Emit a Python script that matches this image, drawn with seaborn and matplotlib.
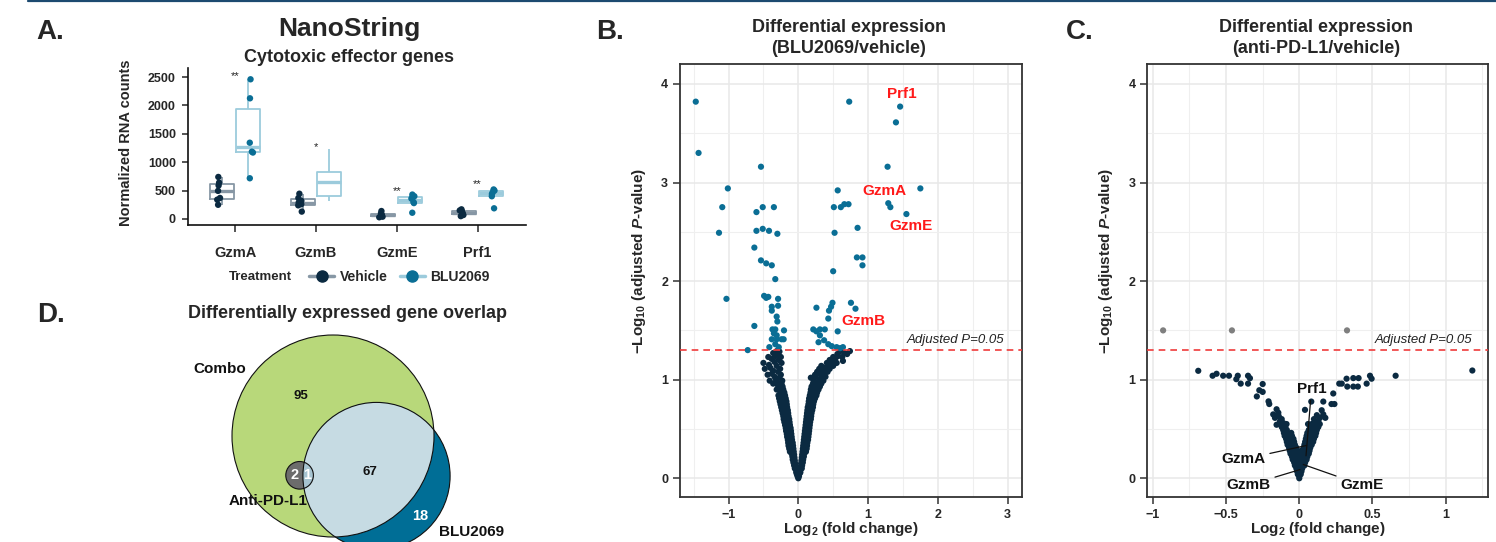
import matplotlib
matplotlib.use('Agg')
import matplotlib.pyplot as plt
import matplotlib.ticker as mticker
from matplotlib.lines import Line2D
from matplotlib.patches import Circle
import numpy as np
import pandas as pd
import seaborn as sns

# ---------------- panel A: NanoString counts ----------------
genes = ['GzmA', 'GzmB', 'GzmE', 'Prf1']
treatments = ['Vehicle', 'BLU2069']

gzma_vehicle = [250, 340, 370, 495, 590, 640, 740]
gzmb_vehicle = [130, 240, 260, 290, 320, 370, 445]
gzme_vehicle = [30, 40, 55, 65, 85, 100, 140]
prf1_vehicle = [50, 70, 90, 110, 130, 150, 170]

gzma_blu = [717, 1170, 1185, 1343, 2125, 2460]
gzmb_blu = [317, 410, 657, 822, 1227]
gzme_blu = [110, 280, 300, 360, 400, 430]
prf1_blu = [188, 400, 440, 470, 500, 520]

# groups drawn as box only (no points shown in the source figure)
box_only = [('GzmB', 'BLU2069')]

sig_stars = ['**', '*', '**', '**']
sig_star_y = [2520, 1260, 500, 620]

# ---------------- panel B: BLU2069 / vehicle volcano ----------------
b_sig = [
    (-1.47, 3.82), (-1.43, 3.30), (-0.535, 3.16), (-1.01, 2.94), (-1.09, 2.75),
    (-0.60, 2.70), (-0.51, 2.75), (-0.35, 2.75), (-1.137, 2.49), (-0.60, 2.51),
    (-0.51, 2.53), (-0.42, 2.51), (-0.30, 2.48), (-0.63, 2.34), (-0.535, 2.21),
    (-0.46, 2.18), (-0.38, 2.16), (-0.33, 2.02), (-1.03, 1.82), (-0.49, 1.85),
    (-0.46, 1.83), (-0.43, 1.84), (-0.29, 1.82), (-0.38, 1.74), (-0.38, 1.70),
    (-0.29, 1.75), (-0.31, 1.64), (-0.30, 1.59), (-0.63, 1.545), (-0.37, 1.51),
    (-0.33, 1.51), (-0.205, 1.50), (-0.35, 1.47), (-0.31, 1.45), (-0.38, 1.41),
    (-0.31, 1.41), (-0.24, 1.41), (-0.21, 1.41), (-0.415, 1.33), (-0.725, 1.30),
    (-0.33, 1.36), (-0.28, 1.33),
    (0.73, 3.82), (1.46, 3.77), (1.40, 3.61), (1.28, 3.16), (1.75, 2.94),
    (0.565, 2.92), (0.51, 2.75), (0.61, 2.75), (0.66, 2.78), (0.72, 2.78),
    (1.29, 2.79), (1.32, 2.75), (1.55, 2.68), (0.85, 2.54), (0.52, 2.49),
    (0.84, 2.24), (0.92, 2.24), (0.92, 2.16), (0.50, 2.10), (0.26, 1.73),
    (0.49, 1.78), (0.47, 1.74), (0.44, 1.70), (0.43, 1.62), (0.755, 1.78),
    (0.82, 1.72), (0.215, 1.51), (0.26, 1.49), (0.31, 1.51), (0.38, 1.51),
    (0.565, 1.49), (0.31, 1.45), (0.37, 1.40), (0.43, 1.36), (0.55, 1.33),
    (0.64, 1.33), (0.48, 1.34), (0.29, 1.38), (0.60, 1.32),
]

b_ns = [
    (0.00, 0.00), (-0.01, 0.02), (0.01, 0.02),
    (-0.02, 0.04), (0.02, 0.05), (-0.03, 0.06), (0.03, 0.06),
    (-0.035, 0.09), (-0.05, 0.10), (0.03, 0.09), (0.05, 0.10),
    (-0.04, 0.12), (-0.06, 0.13), (0.035, 0.12), (0.055, 0.13),
    (-0.045, 0.15), (-0.07, 0.16), (0.04, 0.15), (0.065, 0.16),
    (-0.05, 0.18), (-0.08, 0.19), (0.045, 0.18), (0.07, 0.19),
    (-0.055, 0.21), (-0.085, 0.22), (0.05, 0.21), (0.08, 0.22),
    (-0.06, 0.24), (-0.095, 0.25), (0.055, 0.24), (0.085, 0.25),
    (-0.065, 0.27), (-0.10, 0.28), (-0.12, 0.27), (0.06, 0.27), (0.09, 0.28), (0.11, 0.27),
    (-0.07, 0.30), (-0.11, 0.31), (-0.13, 0.30), (0.065, 0.30), (0.095, 0.31), (0.12, 0.30),
    (-0.075, 0.33), (-0.115, 0.34), (-0.14, 0.33), (0.07, 0.33), (0.10, 0.34), (0.125, 0.33),
    (-0.08, 0.36), (-0.12, 0.37), (-0.145, 0.36), (0.075, 0.36), (0.105, 0.37), (0.13, 0.36),
    (-0.09, 0.39), (-0.13, 0.40), (-0.15, 0.39), (0.08, 0.39), (0.11, 0.40), (0.14, 0.39),
    (-0.095, 0.42), (-0.135, 0.43), (-0.16, 0.42), (0.085, 0.42), (0.115, 0.43), (0.145, 0.42),
    (-0.10, 0.45), (-0.14, 0.46), (-0.165, 0.45), (0.09, 0.45), (0.12, 0.46), (0.15, 0.45),
    (-0.105, 0.48), (-0.145, 0.49), (-0.175, 0.48), (0.095, 0.48), (0.125, 0.49), (0.155, 0.48),
    (-0.11, 0.51), (-0.15, 0.52), (-0.18, 0.51), (0.10, 0.51), (0.13, 0.52), (0.16, 0.51),
    (-0.12, 0.54), (-0.16, 0.55), (-0.19, 0.54), (0.105, 0.54), (0.135, 0.55), (0.165, 0.54),
    (-0.125, 0.57), (-0.165, 0.58), (-0.20, 0.57), (0.11, 0.57), (0.14, 0.58), (0.17, 0.57),
    (-0.13, 0.60), (-0.17, 0.61), (-0.21, 0.60), (0.115, 0.60), (0.145, 0.61), (0.18, 0.60),
    (-0.14, 0.63), (-0.18, 0.64), (-0.215, 0.63), (0.12, 0.63), (0.15, 0.64), (0.185, 0.63),
    (-0.145, 0.66), (-0.19, 0.67), (-0.225, 0.66), (0.125, 0.66), (0.155, 0.67), (0.19, 0.66),
    (-0.15, 0.69), (-0.195, 0.70), (-0.235, 0.69), (0.13, 0.69), (0.165, 0.70), (0.20, 0.69),
    (-0.16, 0.72), (-0.20, 0.73), (-0.245, 0.72), (0.135, 0.72), (0.175, 0.73), (0.21, 0.72),
    (-0.165, 0.75), (-0.21, 0.76), (-0.255, 0.75), (0.145, 0.75), (0.185, 0.76), (0.215, 0.75),
    (-0.17, 0.78), (-0.22, 0.79), (-0.265, 0.78), (0.15, 0.78), (0.195, 0.79), (0.225, 0.78),
    (-0.18, 0.81), (-0.23, 0.82), (-0.275, 0.81), (0.155, 0.81), (0.205, 0.82), (0.24, 0.81),
    (-0.19, 0.84), (-0.245, 0.85), (-0.285, 0.84), (0.165, 0.84), (0.215, 0.85), (0.26, 0.84),
    (-0.20, 0.87), (-0.26, 0.88), (0.175, 0.87), (0.23, 0.88), (0.27, 0.87),
    (-0.215, 0.90), (-0.27, 0.91), (-0.31, 0.90), (0.18, 0.90), (0.245, 0.91), (0.29, 0.90),
    (-0.225, 0.93), (-0.29, 0.94), (0.19, 0.93), (0.26, 0.94), (0.31, 0.93),
    (-0.24, 0.96), (-0.30, 0.97), (-0.36, 0.96), (0.21, 0.96), (0.275, 0.97), (0.33, 0.96),
    (-0.23, 0.99), (-0.32, 1.00), (-0.41, 0.99), (0.22, 0.99), (0.30, 1.00), (0.36, 0.99),
    (-0.27, 1.02), (-0.34, 1.03), (0.18, 1.02), (0.25, 1.03), (0.33, 1.02), (0.39, 1.03),
    (-0.25, 1.05), (-0.38, 1.06), (-0.44, 1.05), (0.24, 1.05), (0.31, 1.06), (0.37, 1.05),
    (-0.29, 1.08), (-0.36, 1.09), (0.27, 1.08), (0.35, 1.09), (0.42, 1.08),
    (-0.26, 1.11), (-0.40, 1.12), (-0.48, 1.11), (0.30, 1.11), (0.38, 1.12), (0.45, 1.11),
    (-0.31, 1.14), (-0.42, 1.15), (0.33, 1.14), (0.44, 1.15), (0.50, 1.14),
    (-0.24, 1.17), (-0.34, 1.18), (-0.50, 1.17), (0.41, 1.17), (0.47, 1.18), (0.55, 1.17),
    (-0.28, 1.20), (-0.38, 1.21), (0.45, 1.20), (0.53, 1.21), (0.64, 1.19),
    (-0.25, 1.23), (-0.33, 1.24), (-0.43, 1.23), (0.50, 1.23), (0.57, 1.24), (0.63, 1.23),
    (-0.29, 1.26), (-0.36, 1.27), (0.56, 1.26), (0.66, 1.27), (0.70, 1.26),
    (-0.31, 1.29), (-0.27, 1.285), (0.60, 1.29), (0.74, 1.29),
]

b_label_genes = ['Prf1', 'GzmA', 'GzmE', 'GzmB']
b_label_x = [1.49, 1.23, 1.61, 0.93]
b_label_y = [3.90, 2.91, 2.56, 1.60]

# ---------------- panel C: anti-PD-L1 / vehicle volcano ----------------
c_grey = [(-0.93, 1.50), (-0.46, 1.50), (0.326, 1.50)]

c_ns = [
    (-0.69, 1.09), (-0.592, 1.04), (-0.565, 1.06), (-0.52, 1.04), (-0.48, 1.04),
    (-0.42, 1.04), (-0.43, 1.005), (-0.40, 0.96), (-0.35, 1.04), (-0.337, 1.015),
    (-0.35, 0.96), (-0.25, 0.956), (-0.273, 0.893), (-0.25, 0.876), (-0.29, 0.83),
    (-0.21, 0.78), (-0.205, 0.753), (-0.155, 0.70), (-0.178, 0.648), (-0.143, 0.665),
    (-0.166, 0.613), (-0.132, 0.578), (-0.155, 0.543), (-0.109, 0.56), (-0.087, 0.55),
    (1.182, 1.093), (0.658, 1.04), (0.483, 1.04), (0.494, 1.01), (0.46, 0.96),
    (0.405, 1.016), (0.369, 1.016), (0.323, 1.01), (0.40, 0.93), (0.369, 0.93),
    (0.328, 0.93), (0.273, 0.96), (0.29, 0.96), (0.232, 0.86), (0.24, 0.753),
    (0.22, 0.753), (0.164, 0.778), (0.082, 0.778), (0.039, 0.694), (0.153, 0.69),
    (0.164, 0.648), (0.141, 0.613), (0.178, 0.613), (0.107, 0.56), (0.118, 0.508),
    (0.06, 0.55),
    (0.0, 0.0), (0.0, 0.02), (-0.01, 0.04), (0.01, 0.04),
    (-0.015, 0.07), (0.0, 0.07), (0.015, 0.07),
    (-0.02, 0.10), (0.0, 0.10), (0.02, 0.10),
    (-0.03, 0.13), (-0.005, 0.13), (0.02, 0.13), (0.035, 0.13),
    (-0.035, 0.16), (-0.01, 0.16), (0.015, 0.16), (0.04, 0.16),
    (-0.045, 0.19), (-0.02, 0.19), (0.005, 0.19), (0.03, 0.19), (0.05, 0.19),
    (-0.05, 0.22), (-0.025, 0.22), (0.0, 0.22), (0.025, 0.22), (0.055, 0.22),
    (-0.06, 0.25), (-0.035, 0.25), (-0.01, 0.25), (0.02, 0.25), (0.045, 0.25), (0.065, 0.25),
    (-0.065, 0.28), (-0.04, 0.28), (-0.015, 0.28), (0.015, 0.28), (0.04, 0.28), (0.07, 0.28),
    (-0.07, 0.31), (-0.045, 0.31), (-0.02, 0.31), (0.03, 0.31), (0.055, 0.31), (0.075, 0.31),
    (-0.08, 0.34), (-0.055, 0.34), (-0.03, 0.34), (0.035, 0.34), (0.06, 0.34), (0.085, 0.34),
    (-0.085, 0.37), (-0.06, 0.37), (-0.035, 0.37), (0.04, 0.37), (0.07, 0.37), (0.095, 0.37),
    (-0.09, 0.40), (-0.065, 0.40), (-0.04, 0.40), (0.045, 0.40), (0.075, 0.40), (0.10, 0.40),
    (-0.10, 0.43), (-0.075, 0.43), (-0.05, 0.43), (0.05, 0.43), (0.08, 0.43), (0.11, 0.43),
    (-0.105, 0.46), (-0.08, 0.46), (-0.055, 0.46), (0.055, 0.46), (0.09, 0.46), (0.115, 0.46),
    (-0.11, 0.49), (-0.085, 0.49), (0.065, 0.49), (0.095, 0.49), (0.12, 0.49),
    (-0.12, 0.52), (-0.095, 0.52), (0.075, 0.52), (0.105, 0.52), (0.13, 0.52),
    (-0.13, 0.55), (0.085, 0.55), (0.115, 0.55), (0.14, 0.55),
    (-0.12, 0.60), (-0.14, 0.63), (0.10, 0.60), (0.12, 0.64), (0.13, 0.58),
]

c_label_genes = ['Prf1', 'GzmA', 'GzmB', 'GzmE']
c_gene_x = [0.046, 0.05, 0.005, 0.027]
c_gene_y = [0.228, 0.333, 0.088, 0.14]
c_text_x = [0.084, -0.383, -0.348, 0.43]
c_text_y = [0.91, 0.193, -0.07, -0.07]

padj_cut = 0.05

# ---------------- panel D: Venn counts ----------------
venn_counts = [95, 67, 18, 2, 1]
venn_sets = ['Combo', 'Anti-PD-L1', 'BLU2069']

# ---------------- style ----------------
NAVY = '#0b2a41'
TEAL = '#0a6e95'
GREY_PT = '#7f7f7f'
box_colors = {'Vehicle': '#8797a5', 'BLU2069': '#9ccbdc'}
point_colors = {'Vehicle': NAVY, 'BLU2069': TEAL}

sns.set_style('ticks')
plt.rcParams['font.family'] = ['Liberation Sans', 'DejaVu Sans']
plt.rcParams['font.weight'] = 'bold'
plt.rcParams['axes.labelweight'] = 'bold'
plt.rcParams['mathtext.fontset'] = 'custom'
plt.rcParams['mathtext.rm'] = 'Liberation Sans:bold'
plt.rcParams['mathtext.bf'] = 'Liberation Sans:bold'
plt.rcParams['mathtext.it'] = 'Liberation Sans:bold:italic'

W, H = 1496, 542
fig = plt.figure(figsize=(W / 100, H / 100), dpi=100)


def px_axes(left, top, right, bottom):
    return fig.add_axes([left / W, 1 - bottom / H, (right - left) / W, (bottom - top) / H])


def fig_text(x, y, s, **kw):
    fig.text(x / W, 1 - y / H, s, **kw)


fig.add_artist(Line2D([28 / W, 1], [1 - 1 / H, 1 - 1 / H], color='#1c4a70', lw=1.6,
                      transform=fig.transFigure))

# ---------------- A ----------------
ax_a = px_axes(188.3, 67.7, 526, 225)
rows = []
for gene, veh, blu in zip(genes, [gzma_vehicle, gzmb_vehicle, gzme_vehicle, prf1_vehicle],
                          [gzma_blu, gzmb_blu, gzme_blu, prf1_blu]):
    rows += [(gene, 'Vehicle', v) for v in veh]
    rows += [(gene, 'BLU2069', v) for v in blu]
nano = pd.DataFrame(rows, columns=['gene', 'treatment', 'count'])

sns.boxplot(data=nano, x='gene', y='count', hue='treatment', order=genes, hue_order=treatments,
            palette=box_colors, saturation=1, fill=False, width=0.66, gap=0.1,
            showfliers=False, showcaps=False, linewidth=1.3,
            medianprops=dict(linewidth=2.4), legend=False, ax=ax_a)

shown = ~nano.apply(lambda r: (r['gene'], r['treatment']) in box_only, axis=1)
sns.stripplot(data=nano[shown], x='gene', y='count', hue='treatment', order=genes,
              hue_order=treatments, palette=point_colors, dodge=True, jitter=0.05, size=4.6,
              legend=False, ax=ax_a, zorder=3)

for i, (star, sy) in enumerate(zip(sig_stars, sig_star_y)):
    ax_a.text(i, sy, star, ha='center', va='center', fontsize=8, fontweight='normal', color='#222')

ax_a.set_xlim(-0.58, 3.6)
ax_a.set_ylim(-106, 2664)
ax_a.set_yticks([0, 500, 1000, 1500, 2000, 2500])
ax_a.set_xlabel('')
ax_a.set_ylabel('Normalized RNA counts', fontsize=10.5)
ax_a.yaxis.set_label_coords(-0.165, 0.52)
sns.despine(ax=ax_a)
for sp in ax_a.spines.values():
    sp.set_linewidth(1.2)
    sp.set_color('#111')
ax_a.tick_params(axis='y', length=4, width=1.1, labelsize=9, pad=5)
ax_a.tick_params(axis='x', length=5, width=1.1, labelsize=10.5, pad=10)

fig_text(36, 39, 'A.', fontsize=20, fontweight='bold', va='baseline')
fig_text(349, 35.5, 'NanoString', fontsize=19, fontweight='bold', ha='center', va='baseline')
fig_text(349, 61.5, 'Cytotoxic effector genes', fontsize=13, fontweight='bold', ha='center',
         va='baseline')

fig_text(260, 277, 'Treatment', fontsize=9.5, fontweight='bold', ha='center', va='center')
handles = [Line2D([], [], color=box_colors[t], lw=2.5, marker='o', ms=8,
                  mfc=point_colors[t], mec=point_colors[t]) for t in treatments]
fig.legend(handles, treatments, loc='center left', bbox_to_anchor=(309 / W, 1 - 277 / H),
           ncol=2, frameon=False, handlelength=1.8, handletextpad=0.4, columnspacing=0.9,
           borderpad=0, borderaxespad=0, prop=dict(weight='bold', size=10))


# ---------------- B and C ----------------
def volcano(ax, ns, sig, sig_color, xlim, xticks, xminor):
    pts = pd.concat([pd.DataFrame(ns, columns=['lfc', 'nlp']).assign(status='ns'),
                     pd.DataFrame(sig, columns=['lfc', 'nlp']).assign(status='sig')],
                    ignore_index=True)
    sns.scatterplot(data=pts, x='lfc', y='nlp', hue='status',
                    palette={'ns': NAVY, 'sig': sig_color}, s=20, linewidth=0,
                    legend=False, ax=ax, zorder=3)
    ax.axhline(-np.log10(padj_cut), color='#ef3b3b', lw=1.2, ls=(0, (4, 3)), zorder=4)
    ax.set_xlim(*xlim)
    ax.set_ylim(-0.193, 4.203)
    ax.set_xticks(xticks)
    ax.set_xticks(xminor, minor=True)
    ax.set_yticks([0, 1, 2, 3, 4])
    ax.set_yticks([0.5, 1.5, 2.5, 3.5], minor=True)
    ax.xaxis.set_major_formatter(mticker.FuncFormatter(lambda v, _: f'{v:g}'.replace('-', '\u2212')))
    ax.grid(which='major', color='#e8e8e8', lw=1.1)
    ax.grid(which='minor', color='#efefef', lw=0.8)
    ax.set_axisbelow(True)
    for sp in ax.spines.values():
        sp.set_visible(True)
        sp.set_linewidth(1.3)
        sp.set_color('#333')
    ax.tick_params(which='major', length=5, width=1.1, color='#333', labelsize=9, pad=3.5)
    ax.tick_params(which='minor', length=0)
    ax.set_xlabel(r'Log$_\mathrm{2}$ (fold change)', fontsize=11)
    ax.set_ylabel(r'$-$Log$_\mathrm{10}$ (adjusted $\mathit{P}$-value)', fontsize=11)
    ax.xaxis.set_label_coords(0.5, -0.052)
    ax.yaxis.set_label_coords(-0.094, 0.545)


ax_b = px_axes(680, 63.9, 1021.7, 497.3)
volcano(ax_b, b_ns, b_sig, TEAL, (-1.696, 3.203), [-1, 0, 1, 2, 3], np.arange(-1.5, 3.01, 0.5))
ax_b.text(2.95, 1.40, 'Adjusted P=0.05', ha='right', va='center', style='italic',
          fontweight='normal', fontsize=9.5, color='#222')
for g, tx, ty in zip(b_label_genes, b_label_x, b_label_y):
    ax_b.text(tx, ty, g, ha='center', va='center', color='#ff1a1a', fontsize=11,
              fontweight='bold', zorder=5)

ax_c = px_axes(1147.3, 63.9, 1488.3, 497.3)
volcano(ax_c, c_ns, c_grey, GREY_PT, (-1.038, 1.291), [-1, -0.5, 0, 0.5, 1],
        np.arange(-1, 1.26, 0.25))
ax_c.text(1.18, 1.40, 'Adjusted P=0.05', ha='right', va='center', style='italic',
          fontweight='normal', fontsize=9.5, color='#222')
for g, gx, gy, tx, ty in zip(c_label_genes, c_gene_x, c_gene_y, c_text_x, c_text_y):
    ax_c.annotate(g, xy=(gx, gy), xytext=(tx, ty), ha='center', va='center', fontsize=11,
                  fontweight='bold', color='#111', zorder=5,
                  arrowprops=dict(arrowstyle='-', color='#111', lw=0.9, shrinkA=1, shrinkB=0))

fig_text(596, 38.7, 'B.', fontsize=20, fontweight='bold', va='baseline')
fig_text(1066, 38.7, 'C.', fontsize=20, fontweight='bold', va='baseline')
fig_text(849, 37.6, 'Differential expression\n(BLU2069/vehicle)', fontsize=13,
         fontweight='bold', ha='center', va='center', linespacing=1.3)
fig_text(1316, 37.6, 'Differential expression\n(anti-PD-L1/vehicle)', fontsize=13,
         fontweight='bold', ha='center', va='center', linespacing=1.3)

# ---------------- D: Venn ----------------
ax_d = px_axes(0, 290, 560, 542)
ax_d.set_xlim(0, 560)
ax_d.set_ylim(252, 0)
ax_d.axis('off')

combo_c, combo_r = (333, 146), 101
blu_c, blu_r = (376.5, 186), 73.6
pdl1_c, pdl1_r = (299.6, 185.3), 13.8

p_combo = Circle(combo_c, combo_r, fc='#b8d87a', ec='none', zorder=1)
ax_d.add_patch(p_combo)
p_blu = Circle(blu_c, blu_r, fc='#006e96', ec='none', zorder=2)
ax_d.add_patch(p_blu)
p_over = Circle(blu_c, blu_r, fc='#c6dbe3', ec='none', zorder=3)
ax_d.add_patch(p_over)
p_over.set_clip_path(p_combo)
p_pdl1 = Circle(pdl1_c, pdl1_r, fc='#6c6c6c', ec='none', zorder=4)
ax_d.add_patch(p_pdl1)
p_pdl1_over = Circle(pdl1_c, pdl1_r, fc='#a6c3d0', ec='none', zorder=5)
ax_d.add_patch(p_pdl1_over)
p_pdl1_over.set_clip_path(p_blu)
for c, r in [(combo_c, combo_r), (blu_c, blu_r), (pdl1_c, pdl1_r)]:
    ax_d.add_patch(Circle(c, r, fill=False, ec='#111', lw=0.8, zorder=6))

count_xy = [(301, 106), (369.6, 181.7), (420.4, 225.7), (294.6, 185), (307, 185)]
count_col = ['#111', '#111', 'white', 'white', 'white']
count_size = [9.5, 9.5, 10.5, 10.5, 10.5]
for n, (x, y), col, fs in zip(venn_counts, count_xy, count_col, count_size):
    ax_d.text(x, y, str(n), ha='center', va='center', color=col, fontsize=fs,
              fontweight='bold', zorder=7)
set_xy = [(219.6, 79), (267.9, 210.7), (471.4, 242)]
for name, (x, y) in zip(venn_sets, set_xy):
    ax_d.text(x, y, name, ha='center', va='center', fontsize=11, fontweight='bold',
              color='#111', zorder=7)

fig_text(37, 321.7, 'D.', fontsize=20, fontweight='bold', va='baseline')
fig_text(348, 314, 'Differentially expressed gene overlap', fontsize=13, fontweight='bold',
         ha='center', va='center')

fig.savefig('out.png', dpi=100)
